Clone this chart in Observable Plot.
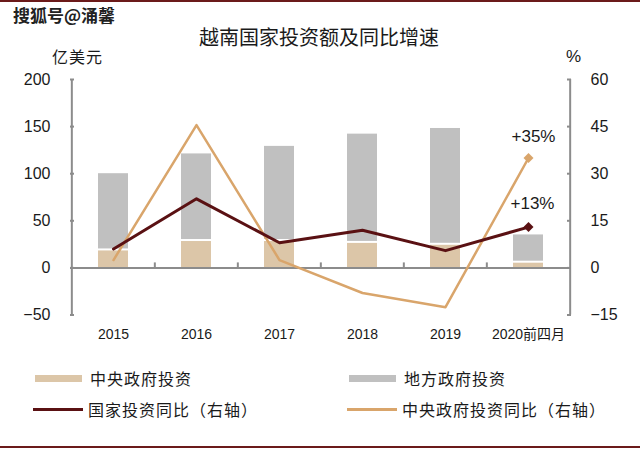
<!DOCTYPE html>
<html>
<head>
<meta charset="utf-8">
<script src="https://cdn.jsdelivr.net/npm/d3@7"></script>
<script src="https://cdn.jsdelivr.net/npm/@observablehq/plot@0.6"></script>
<style>
  html, body { margin: 0; padding: 0; background: #fff; }
  #wrap { position: relative; width: 640px; height: 451px; overflow: hidden; background: #fff;
          font-family: "Noto Sans CJK SC", "Noto Sans", sans-serif; color: #1a1a1a; }
  .abs { position: absolute; white-space: nowrap; line-height: 1; }
  #topline { left: 0; top: 0; width: 640px; height: 2px; background: #6b1a1a; }
  #botline { left: 0; top: 446px; width: 640px; height: 2px; background: #6b1a1a; }
  #wm { left: 13px; top: 6px; font-size: 17px; font-weight: 700; color: #222;
        text-shadow: 1px 1px 0 #fff, -1px -1px 0 #fff, 1px -1px 0 #fff, -1px 1px 0 #fff; }
  #title { left: 0; width: 640px; top: 27px; text-align: center; font-size: 20px; }
  #title span { display: inline-block; margin-left: -2px; }
  #unitL { left: 52px; top: 48px; font-size: 16px; letter-spacing: 1px; }
  #unitR { left: 566px; top: 48px; font-size: 17px; font-family: "Liberation Sans", Arial, sans-serif; }
  #chart { left: 0; top: 60px; }
  .sw { position: absolute; }
  .lg { position: absolute; font-size: 16px; letter-spacing: 1px; }
</style>
</head>
<body>
<div id="wrap">
  <div id="topline" class="abs"></div>
  <div id="wm" class="abs">搜狐号@涌馨</div>
  <div id="title" class="abs"><span>越南国家投资额及同比增速</span></div>
  <div id="unitL" class="abs">亿美元</div>
  <div id="unitR" class="abs">%</div>
  <div id="chart" class="abs"></div>
  <div id="legend"></div>
  <div id="botline" class="abs"></div>
</div>
<script>
// ---- data ----
const categories = ["2015", "2016", "2017", "2018", "2019", "2020前四月"];
const centralInvest = [18, 28, 28, 26, 24, 5];      // 中央政府投资 (亿美元)
const localInvest = [82, 93, 101, 116, 124, 30];     // 地方政府投资 (亿美元)
const nationalYoY = [6, 22, 8, 12, 5.5, 13];         // 国家投资同比 (%)
const centralYoY = [2.5, 45.5, 2.5, -8, -12.5, 35];  // 中央政府投资同比 (%)
const leftTicks = [-50, 0, 50, 100, 150, 200];
const rightTicks = [-15, 0, 15, 30, 45, 60];
const endLabels = ["+35%", "+13%"];
const seriesNames = ["中央政府投资", "地方政府投资", "国家投资同比（右轴）", "中央政府投资同比（右轴）"];

// ---- styles ----
const cTan = "#dcc6a8", cGrey = "#c0c0c0", cDark = "#5a1113", cTanLine = "#d9a56b", cAxis = "#8c8c8c";
const k = leftTicks[leftTicks.length - 1] / rightTicks[rightTicks.length - 1]; // right -> left units
const yMin = leftTicks[0], yMax = leftTicks[leftTicks.length - 1];

const rows = categories.map((c, i) => ({
  cat: c, central: centralInvest[i], local: localInvest[i],
  total: centralInvest[i] + localInvest[i],
  nat: nationalYoY[i] * k, cen: centralYoY[i] * k
}));
const last = rows[rows.length - 1];

const W = 640, H = 290, mL = 70, mR = 70;
const step = (W - mL - mR) / categories.length;

const chart = Plot.plot({
  width: W, height: H,
  marginTop: 19, marginBottom: 35.5, marginLeft: mL, marginRight: mR,
  style: { fontFamily: "'Liberation Sans', Arial, sans-serif", fontSize: "16px", color: "#1a1a1a", background: "transparent" },
  x: { type: "band", domain: categories, paddingInner: 0.64, paddingOuter: 0.32, align: 0.5, label: null },
  y: { domain: [yMin, yMax], label: null },
  marks: [
    Plot.barY(rows, { x: "cat", y1: 0, y2: "central", fill: cTan }),
    Plot.barY(rows, { x: "cat", y1: "central", y2: "total", fill: cGrey, insetBottom: 2 }),
    Plot.ruleY([0], { stroke: cAxis, strokeWidth: 2 }),
    Plot.ruleX(categories.slice(1), { x: d => d, dx: -step / 2, y1: 0, y2: 0, insetTop: -5, stroke: cAxis, strokeWidth: 2 }),
    // vertical axis lines at the frame edges
    Plot.ruleX([categories[0]], { x: d => d, dx: -step / 2, y1: yMin, y2: yMax, stroke: cAxis, strokeWidth: 2 }),
    Plot.ruleX([categories[categories.length - 1]], { x: d => d, dx: step / 2, y1: yMin, y2: yMax, stroke: cAxis, strokeWidth: 2 }),
    Plot.axisY({ anchor: "left", ticks: leftTicks, tickSize: -4, tickPadding: 24, stroke: cAxis, strokeWidth: 2, fill: "#1a1a1a", fontSize: 16 }),
    Plot.axisY({ anchor: "right", ticks: rightTicks.map(v => v * k), tickFormat: d => d3.format("d")(Math.round(d / k)),
                 tickSize: -4, tickPadding: 24, stroke: cAxis, strokeWidth: 2, fill: "#1a1a1a", fontSize: 16 }),
    Plot.axisX({ anchor: "bottom", tickSize: 0, tickPadding: 14, fontSize: 14, fill: "#1a1a1a",
                 fontFamily: "'Liberation Sans', 'Noto Sans CJK SC', sans-serif" }),
    Plot.lineY(rows, { x: "cat", y: "cen", stroke: cTanLine, strokeWidth: 2.5 }),
    Plot.lineY(rows, { x: "cat", y: "nat", stroke: cDark, strokeWidth: 3 }),
    Plot.dot([last], { x: "cat", y: "cen", symbol: "diamond2", r: 4.5, fill: cTanLine, stroke: null }),
    Plot.dot([last], { x: "cat", y: "nat", symbol: "diamond2", r: 4.5, fill: cDark, stroke: null }),
    Plot.text([last], { x: "cat", y: "cen", text: () => endLabels[0], dx: 5, dy: -21, fontSize: 17, fill: "#1a1a1a" }),
    Plot.text([last], { x: "cat", y: "nat", text: () => endLabels[1], dx: 4, dy: -24, fontSize: 17, fill: "#1a1a1a" })
  ]
});
document.getElementById("chart").appendChild(chart);

// ---- legend (HTML) ----
const legend = document.getElementById("legend");
const items = [
  { name: seriesNames[0], color: cTan, kind: "box", x: 35, y: 378 },
  { name: seriesNames[1], color: cGrey, kind: "box", x: 349, y: 378 },
  { name: seriesNames[2], color: cDark, kind: "line", x: 33, y: 409 },
  { name: seriesNames[3], color: cTanLine, kind: "line", x: 347, y: 409 }
];
items.forEach(it => {
  const sw = document.createElement("div");
  sw.className = "sw";
  const h = it.kind === "box" ? 7 : 3;
  sw.style.cssText = `left:${it.x}px;top:${it.y - h / 2}px;width:${it.kind === "box" ? 47 : 50}px;height:${h}px;background:${it.color};`;
  legend.appendChild(sw);
  const t = document.createElement("div");
  t.className = "lg";
  t.textContent = it.name;
  t.style.left = (it.x + 55) + "px";
  t.style.top = (it.y - 12) + "px";
  legend.appendChild(t);
});
</script>
</body>
</html>
